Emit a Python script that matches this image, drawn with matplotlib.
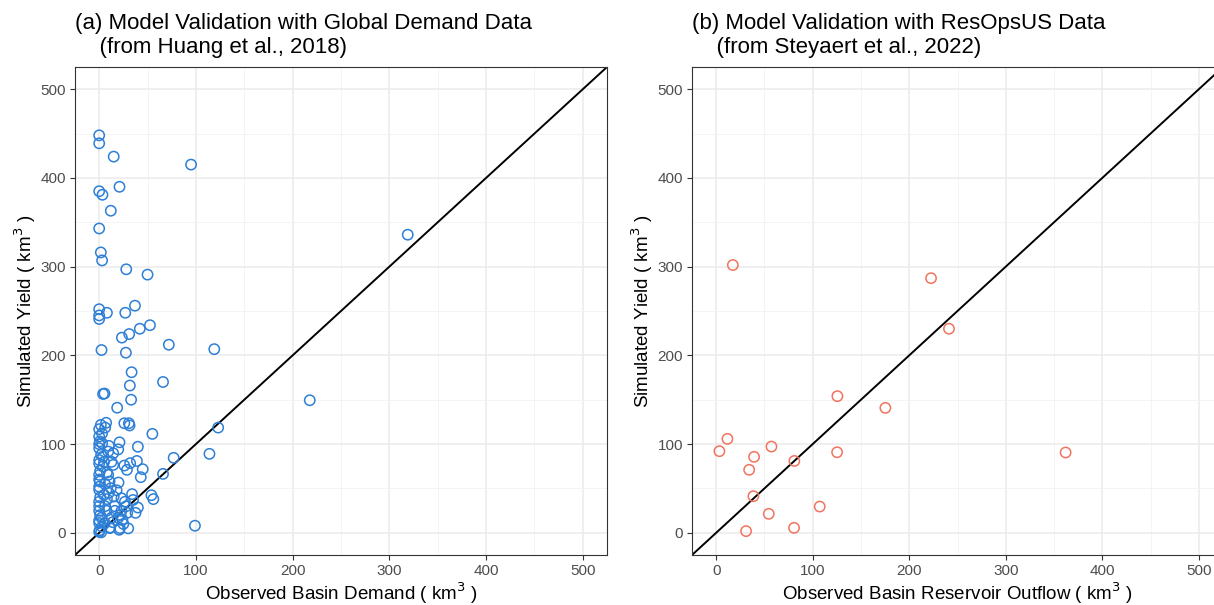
import numpy as np
import matplotlib
matplotlib.use("Agg")
from matplotlib import pyplot as plt
from matplotlib.ticker import MultipleLocator

plt.rcParams['font.family'] = ['Liberation Sans', 'DejaVu Sans']

# panel (a): observed basin demand vs simulated yield (km3)
obs_a = [0, 0, 15, 95, 0, 3.4, 21, 12, 0, 1.7, 3, 28, 50,
         0, 0, 0, 8, 27, 37, 23.5, 31, 42, 52.5, 72, 119, 27.6, 2.4,
         33.5, 66, 31.7, 33, 4, 5.5, 18.6, 123, 55, 114, 77, 26, 30.7, 31.4, 40, 66, 99,
         54, 56, 45, 43, 39, 32, 26, 28.7, 21, 20, 34, 35, 40, 37.6, 29, 20.7, 11.4,
         7.2, 6.2, 1.7, 0, 319, 217.7,
         0, 0.7, 3, 0, 9.3, 14.5, 19.7, 4, 0, 12.7, 14.5, 4,
         0, 9.3, 0.7, 10.7, 0, 12, 5, 15, 23, 26.6,
         23, 16.3, 7.6, 0, 2.4, 12.7, 19.7, 0, 5.9, 11, 21.4, 0.5, 2, 0,
         0, 0, 1, 0, 0, 1, 0, 2, 0, 3, 1, 0, 3, 6, 8, 10, 6, 8, 5, 10,
         16, 14, 25, 22, 28, 18, 30, 24]
sim_a = [448, 439, 424, 415, 385, 381, 390, 363, 343, 316, 307, 297, 291,
         252, 245, 241, 248, 248, 256, 220, 224, 230, 234, 212, 207, 203, 206,
         181, 170, 166, 150, 156.5, 157, 141, 118.6, 111.5, 89, 84.5, 123.5, 123.5, 121, 97, 66.4, 8,
         42.4, 38, 71.7, 62.7, 81, 78.5, 75.8, 71, 102, 56.7, 43.6, 37, 28.5, 22.5, 22.5, 3.4, 6,
         124, 118.6, 121.6, 116.8, 336, 149.4,
         108.5, 103, 101, 95.4, 91.6, 89.7, 94, 86, 82, 80, 76.5, 74.7,
         65.3, 65.3, 57.8, 57.8, 48.4, 50.3, 42.8, 40.9, 39, 35,
         24.8, 24.8, 24.8, 24.8, 17, 17, 17, 11, 11, 5.3, 5.3, 3, 0.5, 1,
         30, 35, 40, 52, 60, 70, 78, 88, 100, 112, 20, 14, 7, 30, 38, 45, 55, 68, 80, 98,
         30, 12, 10, 20, 30, 48, 5, 15]

# panel (b): observed basin reservoir outflow vs simulated yield (km3)
obs_b = [17.3, 222.6, 241.2, 125.6, 175.3, 11.7, 3.4, 57.3, 39.3,
         34.2, 81, 125.3, 362, 38.6, 54.5, 107.3, 31, 80.7]
sim_b = [301.8, 287, 230, 154, 140.8, 105.9, 92, 97.2, 85.6,
         71, 81, 90.8, 90.5, 41.3, 21.4, 29.6, 1.9, 5.6]

titles = ["(a) Model Validation with Global Demand Data\n    (from Huang et al., 2018)",
          "(b) Model Validation with ResOpsUS Data\n    (from Steyaert et al., 2022)"]
xlabels = ["Observed Basin Demand ( km$^3$ )",
           "Observed Basin Reservoir Outflow ( km$^3$ )"]
colors = ["#2e7fd6", "#f2735f"]

fig = plt.figure(figsize=(12.14, 6.05), dpi=100)
W, H = 1214, 605
ax1 = fig.add_axes([75 / W, 1 - 555 / H, 532 / W, 488 / H])
ax2 = fig.add_axes([692 / W, 1 - 555 / H, 531 / W, 488 / H])

for ax, xs, ys, t, xl, c in zip([ax1, ax2], [obs_a, obs_b], [sim_a, sim_b],
                                titles, xlabels, colors):
    ax.set_xlim(-25, 525)
    ax.set_ylim(-25, 525)
    ax.xaxis.set_major_locator(MultipleLocator(100))
    ax.yaxis.set_major_locator(MultipleLocator(100))
    ax.xaxis.set_minor_locator(MultipleLocator(50))
    ax.yaxis.set_minor_locator(MultipleLocator(50))
    ax.grid(which='major', color='#ebebeb', lw=1.1, zorder=0)
    ax.grid(which='minor', color='#f2f2f2', lw=0.6, zorder=0)
    ax.set_axisbelow(True)
    ax.tick_params(which='major', length=3.5, width=0.8, color='#333333',
                   labelsize=11, labelcolor='#4d4d4d', pad=3)
    ax.tick_params(which='minor', length=0)
    for s in ax.spines.values():
        s.set_color('#333333')
        s.set_linewidth(0.8)
    ax.scatter(xs, ys, s=55, facecolors='none', edgecolors=c, linewidths=1.1, zorder=3)
    ax.axline((0, 0), slope=1, color='black', lw=1.4, zorder=2)
    ax.set_xlabel(xl, fontsize=13.5, labelpad=2)
    ax.set_ylabel("Simulated Yield ( km$^3$ )", fontsize=13.5, labelpad=2)
    ax.set_title(t, loc='left', fontsize=16, pad=10, linespacing=1.2)

fig.savefig("out.png", dpi=100)
